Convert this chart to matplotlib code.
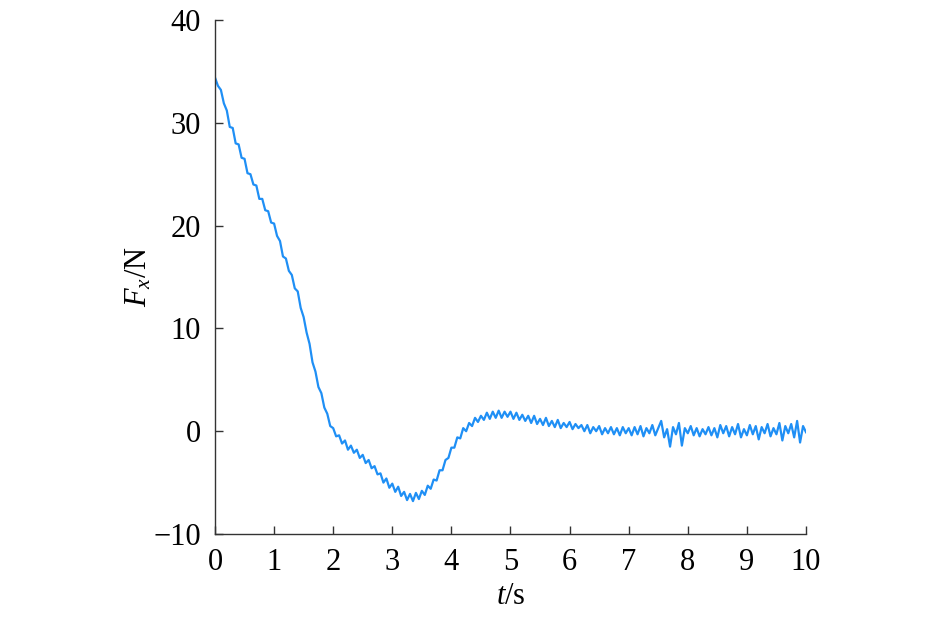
#!/usr/bin/env python3
"""
Force Fx versus time, recreated as a single line plot.
"""

import numpy as np
import matplotlib
matplotlib.use("Agg")
import matplotlib.pyplot as plt

# sample times (s), 0.05 s apart
t = np.round(np.arange(0, 201) * 0.05, 2)

# Fx (N)
fx = [
    34.4, 33.6, 33.2, 31.9, 31.2, 29.6, 29.5, 28.0, 27.9, 26.6,
    26.5, 25.1, 25.0, 24.0, 23.9, 22.6, 22.6, 21.5, 21.4, 20.3,
    20.2, 19.0, 18.5, 17.0, 16.8, 15.6, 15.2, 13.9, 13.6, 12.0,
    11.1, 9.6, 8.5, 6.7, 5.8, 4.3, 3.7, 2.3, 1.7, 0.5,
    0.3, -0.5, -0.4, -1.2, -0.9, -1.8, -1.4, -2.1, -1.8, -2.6,
    -2.3, -3.1, -2.8, -3.6, -3.4, -4.2, -4.1, -5.0, -4.6, -5.5,
    -5.1, -5.9, -5.4, -6.3, -5.9, -6.7, -6.1, -6.8, -6.0, -6.6,
    -5.8, -6.2, -5.3, -5.6, -4.7, -4.8, -3.8, -3.8, -2.8, -2.6,
    -1.6, -1.6, -0.6, -0.7, 0.3, 0.0, 0.8, 0.5, 1.3, 0.9,
    1.5, 1.1, 1.8, 1.2, 1.9, 1.3, 2.0, 1.3, 1.9, 1.4,
    1.9, 1.2, 1.8, 1.1, 1.6, 1.0, 1.5, 0.8, 1.5, 0.7,
    1.2, 0.6, 1.3, 0.5, 1.0, 0.4, 1.1, 0.3, 0.8, 0.4,
    0.9, 0.2, 0.7, 0.3, 0.6, 0.0, 0.6, -0.2, 0.4, 0.0,
    0.5, -0.3, 0.3, -0.2, 0.4, -0.3, 0.3, -0.4, 0.4, -0.2,
    0.3, -0.4, 0.4, -0.3, 0.5, -0.5, 0.3, -0.2, 0.6, -0.4,
    0.3, 1.0, -0.6, 0.2, -1.5, 0.4, -0.3, 0.8, -1.4, 0.3,
    -0.2, 0.5, -0.4, 0.3, -0.5, 0.2, -0.3, 0.4, -0.4, 0.3,
    -0.6, 0.6, -0.2, 0.5, -0.5, 0.4, -0.3, 0.7, -0.6, 0.2,
    -0.4, 0.6, -0.3, 0.5, -0.8, 0.4, -0.2, 0.7, -0.5, 0.3,
    -0.3, 0.8, -0.9, 0.5, -0.2, 0.7, -0.6, 1.0, -1.1, 0.5,
    -0.1,
]

x_ticks = list(range(0, 11))
y_ticks = [-10, 0, 10, 20, 30, 40]

plt.rcParams["font.family"] = ["Liberation Serif", "DejaVu Serif"]
plt.rcParams["mathtext.fontset"] = "custom"
plt.rcParams["mathtext.rm"] = "Liberation Serif"
plt.rcParams["mathtext.it"] = "Liberation Serif:italic"

fig = plt.figure(figsize=(9.45, 6.2), dpi=100)
ax = fig.add_axes([0.2275, 0.1387, 0.6254, 0.829])

ax.plot(t, fx, color="#1f8ff5", linewidth=1.6)

ax.set_xlim(0, 10)
ax.set_ylim(-10, 40)
ax.set_xticks(x_ticks)
ax.set_yticks(y_ticks)

for side in ("top", "right"):
    ax.spines[side].set_visible(False)
for side in ("left", "bottom"):
    ax.spines[side].set_color("#333333")
    ax.spines[side].set_linewidth(1.0)

ax.tick_params(direction="in", length=6, width=1.0, color="#333333",
               labelsize=22)
ax.tick_params(axis="x", pad=10)
ax.tick_params(axis="y", pad=10)

ax.set_xlabel("$\\mathit{t}$/s", fontsize=22, labelpad=4)
ax.set_ylabel("$\\mathit{F}_{\\mathit{x}}$/N", fontsize=22, labelpad=0)

fig.savefig("out.png", dpi=100)
